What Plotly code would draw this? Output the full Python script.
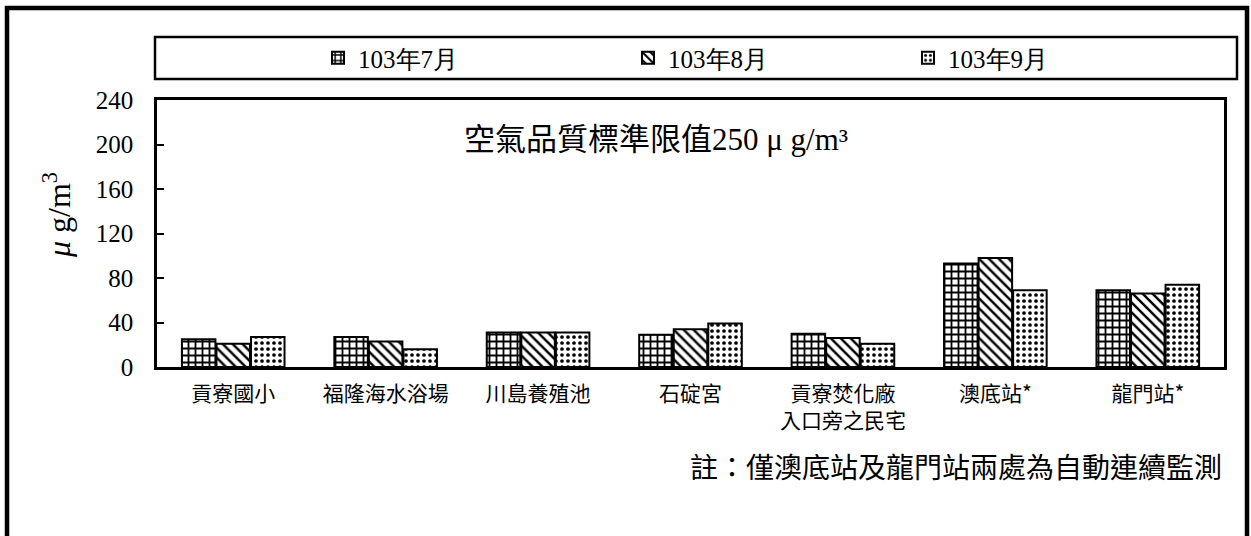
import plotly.graph_objects as go

categories = ["貢寮國小", "福隆海水浴場", "川島養殖池", "石碇宮", "貢寮焚化廠<br>入口旁之民宅", "澳底站*", "龍門站*"]
series_names = ["103年7月", "103年8月", "103年9月"]
jul = [25, 27, 31, 29, 30, 93, 69]
aug = [21, 23, 31, 34, 26, 98, 66]
sep = [27, 16, 31, 39, 21, 69, 74]
y_ticks = [0, 40, 80, 120, 160, 200, 240]

W, H = 1251, 536
L, R, T, B = 157, 27, 100, 169
PW, PH = W - L - R, H - T - B

def px_x(px):
    return (px - L) / PW

def px_y(py):
    return (H - B - py) / PH

patterns = [dict(shape="+", size=7, solidity=0.45, fgcolor="black", bgcolor="white", fillmode="replace"),
            dict(shape="\\", size=7, solidity=0.35, fgcolor="black", bgcolor="white", fillmode="replace"),
            dict(shape=".", size=6, solidity=0.3, fgcolor="black", bgcolor="white", fillmode="replace")]
legend_ids = ["legend", "legend2", "legend3"]
legend_px = [318, 628, 908]

fig = go.Figure()
for name, vals, pat, lid in zip(series_names, [jul, aug, sep], patterns, legend_ids):
    fig.add_trace(go.Bar(
        x=categories, y=vals, legend=lid, name=name,
        marker=dict(color="white", pattern=pat, line=dict(color="black", width=2)),
    ))

legend_font = dict(family="Times New Roman, serif", size=25, color="black")
layout_legends = {}
for lid, lx in zip(legend_ids, legend_px):
    layout_legends[lid] = dict(orientation="h", x=px_x(lx), y=px_y(58), xanchor="left", yanchor="middle",
                               font=legend_font, bgcolor="rgba(0,0,0,0)", itemclick=False)

fig.update_layout(
    template="none",
    width=W, height=H,
    margin=dict(l=L, r=R, t=T, b=B),
    paper_bgcolor="white", plot_bgcolor="white",
    barmode="group", bargap=0.32, bargroupgap=0.03,
    showlegend=True,
    font=dict(family="Times New Roman, serif", color="black"),
    **layout_legends,
)

fig.update_yaxes(range=[0, 240], tickvals=y_ticks, ticks="inside", ticklen=7, tickwidth=1.5,
                 tickcolor="black", showline=True, linewidth=2.5, linecolor="black", mirror=True,
                 showgrid=False, zeroline=False, ticklabelstandoff=16,
                 tickfont=dict(family="Liberation Serif", size=25, color="black"))
fig.update_xaxes(showline=True, linewidth=2.5, linecolor="black", mirror=True, ticks="",
                 showgrid=False, ticklabelstandoff=6,
                 tickfont=dict(family="Noto Sans CJK TC", size=21, color="black"))

# legend frame and outer frame
fig.add_shape(type="rect", xref="paper", yref="paper",
              x0=px_x(155), x1=px_x(1237), y0=px_y(79), y1=px_y(37),
              line=dict(color="black", width=2.5), fillcolor="rgba(0,0,0,0)", layer="below")
fig.add_shape(type="rect", xref="paper", yref="paper",
              x0=px_x(7), x1=px_x(1247), y0=px_y(560), y1=px_y(8),
              line=dict(color="black", width=4.5), fillcolor="rgba(0,0,0,0)", layer="below")

fig.add_annotation(text="<i>μ</i> g/m<sup>3</sup>", textangle=-90, xref="paper", yref="paper",
                   x=px_x(57), y=px_y(215), showarrow=False, xanchor="center", yanchor="middle",
                   font=dict(family="Liberation Serif", size=32, color="black"))
fig.add_annotation(text="空氣品質標準限值250 μ g/m³", xref="paper", yref="paper",
                   x=px_x(656), y=px_y(139), showarrow=False, xanchor="center", yanchor="middle",
                   font=dict(family="Liberation Serif, Noto Sans CJK TC", size=31, color="black"))
fig.add_annotation(text="註：僅澳底站及龍門站兩處為自動連續監測", xref="paper", yref="paper",
                   x=px_x(1224), y=px_y(466), showarrow=False, xanchor="right", yanchor="middle",
                   font=dict(family="Noto Sans CJK TC", size=28, color="black"))

post = ("document.documentElement.style.margin='0';document.body.style.margin='0';"
        "document.body.style.padding='0';var d=document.getElementById('{plot_id}');"
        "d.style.position='absolute';d.style.left='0px';d.style.top='0px';")
fig.write_html("out.html", post_script=post, config={"displayModeBar": False})
